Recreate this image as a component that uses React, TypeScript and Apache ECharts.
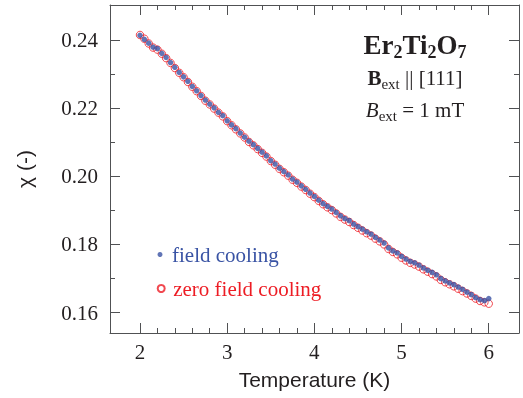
import React, { useEffect, useRef } from "react";
import * as echarts from "echarts";

const temperatures = [
  2.00, 2.05, 2.10, 2.15, 2.20, 2.25, 2.30, 2.35, 2.40, 2.45,
  2.50, 2.55, 2.60, 2.65, 2.70, 2.75, 2.80, 2.85, 2.90, 2.95,
  3.00, 3.05, 3.10, 3.15, 3.20, 3.25, 3.30, 3.35, 3.40, 3.45,
  3.50, 3.55, 3.60, 3.65, 3.70, 3.75, 3.80, 3.85, 3.90, 3.95,
  4.00, 4.05, 4.10, 4.15, 4.20, 4.25, 4.30, 4.35, 4.40, 4.45,
  4.50, 4.55, 4.60, 4.65, 4.70, 4.75, 4.80, 4.85, 4.90, 4.95,
  5.00, 5.05, 5.10, 5.15, 5.20, 5.25, 5.30, 5.35, 5.40, 5.45,
  5.50, 5.55, 5.60, 5.65, 5.70, 5.75, 5.80, 5.85, 5.90, 5.95,
  6.00,
];

const fieldCooling = [
  0.2414, 0.2402, 0.2391, 0.2379, 0.2375, 0.2361, 0.2349, 0.2334, 0.2320, 0.2305,
  0.2292, 0.2279, 0.2264, 0.2251, 0.2237, 0.2224, 0.2212, 0.2201, 0.2188, 0.2178,
  0.2163, 0.2151, 0.2140, 0.2127, 0.2115, 0.2103, 0.2093, 0.2082, 0.2071, 0.2060,
  0.2046, 0.2036, 0.2024, 0.2014, 0.2004, 0.1992, 0.1983, 0.1972, 0.1962, 0.1951,
  0.1941, 0.1930, 0.1920, 0.1912, 0.1904, 0.1894, 0.1884, 0.1876, 0.1870, 0.1860,
  0.1852, 0.1845, 0.1837, 0.1830, 0.1821, 0.1813, 0.1804, 0.1790, 0.1781, 0.1775,
  0.1765, 0.1757, 0.1750, 0.1746, 0.1739, 0.1731, 0.1724, 0.1718, 0.1711, 0.1700,
  0.1693, 0.1687, 0.1682, 0.1675, 0.1668, 0.1660, 0.1653, 0.1644, 0.1638, 0.1635,
  0.1641,
];

const zeroFieldCooling = [
  0.2415, 0.2404, 0.2390, 0.2378, 0.2372, 0.2360, 0.2347, 0.2333, 0.2318, 0.2304,
  0.2291, 0.2277, 0.2263, 0.2250, 0.2236, 0.2222, 0.2211, 0.2199, 0.2187, 0.2176,
  0.2162, 0.2150, 0.2138, 0.2126, 0.2114, 0.2101, 0.2091, 0.2080, 0.2069, 0.2058,
  0.2045, 0.2034, 0.2022, 0.2012, 0.2002, 0.1990, 0.1981, 0.1970, 0.1960, 0.1949,
  0.1939, 0.1928, 0.1918, 0.1909, 0.1901, 0.1891, 0.1881, 0.1873, 0.1866, 0.1857,
  0.1849, 0.1841, 0.1833, 0.1826, 0.1817, 0.1809, 0.1800, 0.1787, 0.1778, 0.1771,
  0.1761, 0.1753, 0.1746, 0.1741, 0.1735, 0.1727, 0.1720, 0.1713, 0.1706, 0.1696,
  0.1689, 0.1683, 0.1677, 0.1670, 0.1663, 0.1656, 0.1649, 0.1641, 0.1634, 0.1630,
  0.1626,
];

const xMajorTicks = [2, 3, 4, 5, 6];
const xMinorTicks = [2.2, 2.4, 2.6, 2.8, 3.2, 3.4, 3.6, 3.8, 4.2, 4.4, 4.6, 4.8, 5.2, 5.4, 5.6, 5.8];
const yMajorTicks = [0.16, 0.18, 0.20, 0.22, 0.24];
const yMinorTicks = [0.17, 0.19, 0.21, 0.23];

const X_MIN = 1.656;
const X_MAX = 6.347;
const Y_MIN = 0.154;
const Y_MAX = 0.2503;

const FRAME = "#505153";
const INK = "#231f20";
const BLUE = "#3953a4";
const RED = "#ed1c24";
const SERIF = "'Liberation Serif', 'Times New Roman', serif";
const SANS = "'Liberation Sans', Arial, sans-serif";

function tickAxis(kind: "x" | "y", gridIndex: number, position: string, ticks: number[], len: number, showLine: boolean) {
  return {
    type: "value",
    gridIndex,
    position,
    min: kind === "x" ? X_MIN : Y_MIN,
    max: kind === "x" ? X_MAX : Y_MAX,
    splitLine: { show: false },
    axisLine: { show: showLine, onZero: false, lineStyle: { color: FRAME, width: 1 } },
    axisTick: { show: true, inside: true, length: len, customValues: ticks, lineStyle: { color: FRAME, width: 1 } },
    axisLabel: { show: false },
  };
}

export default function App() {
  const ref = useRef<HTMLDivElement>(null);
  useEffect(() => {
    if (!ref.current) return;
    const chart = echarts.init(ref.current, undefined, { renderer: "svg" });
    const gridRect = { left: 110, right: 4, top: 5, bottom: 65 };
    const option: any = {
      animation: false,
      grid: [gridRect, { ...gridRect }],
      xAxis: [
        {
          ...tickAxis("x", 0, "bottom", xMajorTicks, 10, true),
          axisLabel: {
            show: true,
            customValues: xMajorTicks,
            fontFamily: SERIF,
            fontSize: 21,
            color: INK,
            margin: 8,
          },
          name: "Temperature (K)",
          nameLocation: "middle",
          nameGap: 36,
          nameTextStyle: { fontFamily: SANS, fontSize: 21, color: INK },
        },
        tickAxis("x", 0, "top", xMajorTicks, 10, true),
        tickAxis("x", 1, "bottom", xMinorTicks, 5, false),
        tickAxis("x", 1, "top", xMinorTicks, 5, false),
      ],
      yAxis: [
        {
          ...tickAxis("y", 0, "left", yMajorTicks, 10, true),
          axisLabel: {
            show: true,
            customValues: yMajorTicks,
            formatter: (v: number) => v.toFixed(2),
            fontFamily: SERIF,
            fontSize: 21,
            color: INK,
            margin: 12,
          },
          name: "χ (-)",
          nameLocation: "middle",
          nameRotate: 90,
          nameGap: 75,
          nameTextStyle: { fontFamily: SANS, fontSize: 21, color: INK },
        },
        tickAxis("y", 0, "right", yMajorTicks, 10, true),
        tickAxis("y", 1, "left", yMinorTicks, 5, false),
        tickAxis("y", 1, "right", yMinorTicks, 5, false),
      ],
      legend: [
        {
          data: ["field cooling"],
          left: 152.5,
          top: 239,
          itemWidth: 14,
          itemHeight: 5,
          selectedMode: false,
          textStyle: { fontFamily: SERIF, fontSize: 21, color: BLUE },
        },
        {
          data: ["zero field cooling"],
          left: 151.7,
          top: 273,
          itemWidth: 14,
          itemHeight: 7,
          selectedMode: false,
          textStyle: { fontFamily: SERIF, fontSize: 21, color: RED },
        },
      ],
      series: [
        {
          type: "scatter",
          name: "zero field cooling",
          xAxisIndex: 0,
          yAxisIndex: 0,
          data: temperatures.map((t, i) => [t, zeroFieldCooling[i]]),
          symbol: "circle",
          symbolSize: 7.5,
          itemStyle: { color: "rgba(255,255,255,0)", borderColor: RED, borderWidth: 1 },
          z: 2,
        },
        {
          type: "scatter",
          name: "field cooling",
          xAxisIndex: 0,
          yAxisIndex: 0,
          data: temperatures.map((t, i) => [t, fieldCooling[i]]),
          symbol: "circle",
          symbolSize: 5.5,
          itemStyle: { color: BLUE },
          z: 3,
        },
      ],
      graphic: [
        {
          type: "text",
          x: 415,
          y: 45,
          style: {
            text: "{b|Er}{bs|2}{b|Ti}{bs|2}{b|O}{bs|7}",
            align: "center",
            verticalAlign: "middle",
            textAlign: "center",
            textVerticalAlign: "middle",
            rich: {
              b: { fontFamily: SERIF, fontWeight: "bold", fontSize: 27, fill: INK, color: INK },
              bs: { fontFamily: SERIF, fontWeight: "bold", fontSize: 18, fill: INK, color: INK, padding: [13, 0, 0, 0] },
            },
          },
        },
        {
          type: "text",
          x: 415,
          y: 78,
          style: {
            text: "{B|B}{s|ext}{r| || [111]}",
            align: "center",
            verticalAlign: "middle",
            textAlign: "center",
            textVerticalAlign: "middle",
            rich: {
              B: { fontFamily: SERIF, fontWeight: "bold", fontSize: 21, fill: INK, color: INK },
              s: { fontFamily: SERIF, fontSize: 15, fill: INK, color: INK, padding: [11, 0, 0, 0] },
              r: { fontFamily: SERIF, fontSize: 21, fill: INK, color: INK },
            },
          },
        },
        {
          type: "text",
          x: 415,
          y: 110,
          style: {
            text: "{I|B}{s|ext}{r| = 1 mT}",
            align: "center",
            verticalAlign: "middle",
            textAlign: "center",
            textVerticalAlign: "middle",
            rich: {
              I: { fontFamily: SERIF, fontStyle: "italic", fontSize: 21, fill: INK, color: INK },
              s: { fontFamily: SERIF, fontSize: 15, fill: INK, color: INK, padding: [11, 0, 0, 0] },
              r: { fontFamily: SERIF, fontSize: 21, fill: INK, color: INK },
            },
          },
        },
      ],
    };
    chart.setOption(option);
    return () => chart.dispose();
  }, []);
  return <div ref={ref} style={{ position: "fixed", left: 0, top: 0, width: 523, height: 398 }} />;
}
